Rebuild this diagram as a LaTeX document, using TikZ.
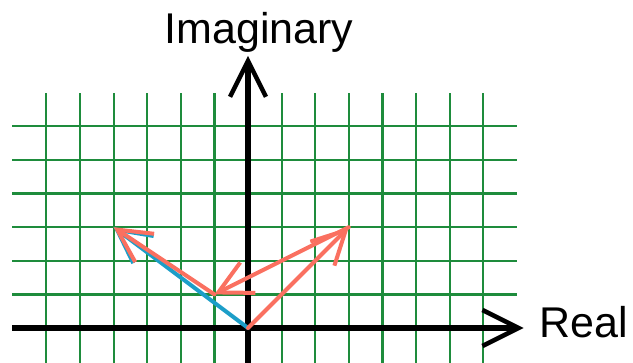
\documentclass[tikz,border=0pt]{standalone}
\usepackage{fontspec}
\setmainfont{Liberation Sans}
\usetikzlibrary{arrows.meta}
\definecolor{gridgreen}{RGB}{30,140,60}
\definecolor{vecred}{RGB}{250,112,96}
\definecolor{vecblue}{RGB}{28,158,200}
\begin{document}
\begin{tikzpicture}[x=33.6pt,y=33.6pt,
  gridline/.style={gridgreen, line width=2.2pt},
  axisline/.style={black, line width=6pt, -{Straight Barb[length=36pt,width=36pt,line width=4.5pt]}},
  redvec/.style={vecred, line width=4pt, line cap=round, -{Straight Barb[length=33pt,width=34pt,line width=4pt]}},
  bluevec/.style={vecblue, line width=4pt, line cap=round, -{Straight Barb[length=33pt,width=34pt,line width=4pt]}},
  lbl/.style={font=\fontsize{43pt}{50pt}\selectfont, inner sep=0pt}]
\useasboundingbox (-7.381,-1.012) rectangle (11.458,9.762);
% grid
\foreach \k in {-6,...,7} \draw[gridline] (\k,-1.1) -- (\k,7);
\foreach \j in {1,...,6} \draw[gridline] (-7.02,\j) -- (8,\j);
% axes
\coordinate (O) at (0,0);
\coordinate (xl) at (-7.02,0);
\coordinate (xr) at (8.2,0);
\coordinate (yb) at (0,-1.1);
\coordinate (yt) at (0,8.1);
\draw[axisline] (xl) -- (xr);
\draw[axisline] (yb) -- (yt);
% points
\coordinate (A) at (3,3);
\coordinate (B) at (-1,1);
\coordinate (C) at (-4,3);
% vectors
\draw[bluevec] (O) -- (C);
\draw[redvec] (O) -- (A);
\draw[redvec] (A) -- (B);
\draw[redvec] (B) -- (C);
% labels
\node[lbl, anchor=base] (im) at (0.33,8.48) {Imaginary};
\node[lbl, anchor=base west] (re) at (8.66,-0.27) {Real};
\end{tikzpicture}
\end{document}
